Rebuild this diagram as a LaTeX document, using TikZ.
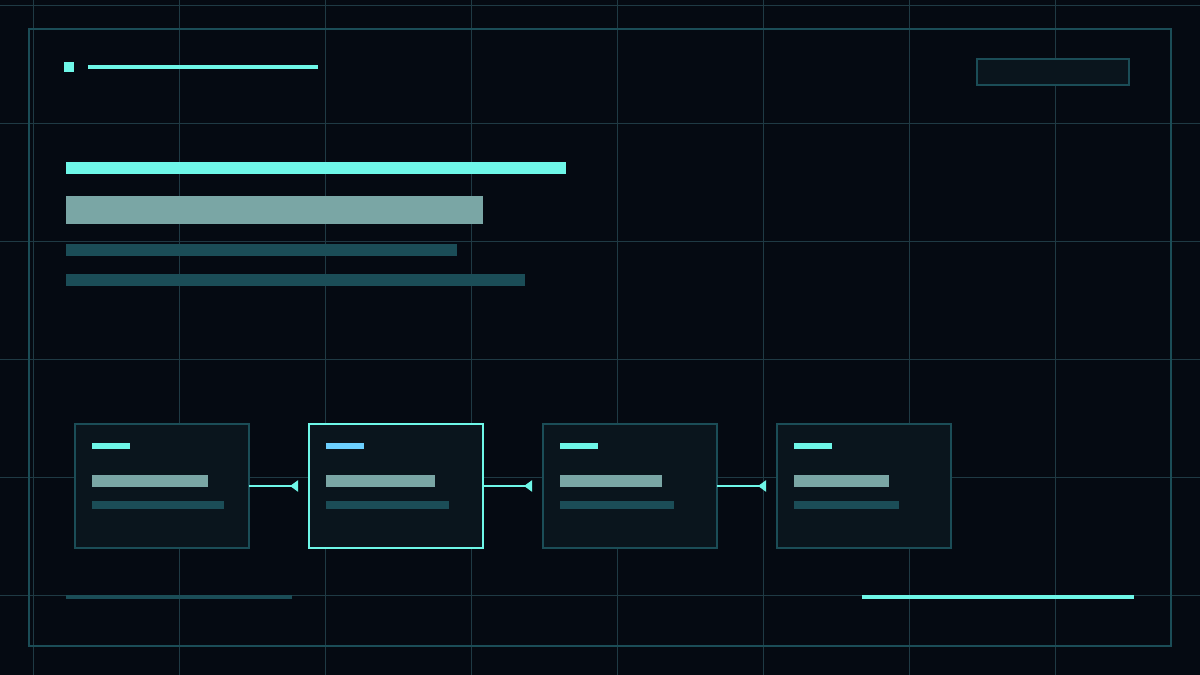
\documentclass[tikz,border=0pt]{standalone}
\usepackage{xcolor}
\usetikzlibrary{arrows.meta}

\definecolor{bgdark}{HTML}{050A12}
\definecolor{gridline}{HTML}{1F3A44}
\definecolor{frameteal}{HTML}{1B4D57}
\definecolor{aqua}{HTML}{6EF7E8}
\definecolor{greyteal}{HTML}{7AA6A5}
\definecolor{boxfill}{HTML}{0A151D}
\definecolor{skyblue}{HTML}{6CD0FF}

\tikzset{
  card/.style={draw=frameteal, fill=boxfill, line width=2pt, inner sep=0pt, outer sep=0pt,
               minimum width=174pt, minimum height=124pt},
  flow/.style={draw=aqua, line width=2.7pt, shorten >=11pt,
               -{Triangle[reversed, length=8pt, width=11pt]}}
}

\begin{document}
\begin{tikzpicture}[x=1pt, y=1pt]
  \useasboundingbox (0,0) rectangle (1200,675);
  \fill[bgdark] (0,0) rectangle (1200,675);
  \draw[gridline, line width=1pt, xstep=146pt, ystep=118pt, shift={(33.3,79.7)}]
    (-33.3,-79.7) grid (1166.7,595.3);
  \draw[frameteal, line width=2pt] (29,29) rectangle (1171,646);

  % header
  \fill[aqua] (64,603) rectangle (74,613);
  \fill[aqua] (88,606) rectangle (318,610);
  \filldraw[fill=boxfill, draw=frameteal, line width=2pt] (977,590) rectangle (1129,616);

  % title block
  \fill[aqua] (66,501) rectangle (566,513);
  \fill[greyteal] (66,451) rectangle (483,479);
  \fill[frameteal] (66,419) rectangle (457,431);
  \fill[frameteal] (66,389) rectangle (525,401);

  % cards
  \node[card] (c1) at (162,189) {};
  \node[card, draw=aqua] (c2) at (396,189) {};
  \node[card] (c3) at (630,189) {};
  \node[card] (c4) at (864,189) {};

  \fill[aqua] ([shift={(17,-19)}]c1.north west) rectangle ++(38,-6);
  \fill[greyteal] ([shift={(17,-51)}]c1.north west) rectangle ++(116,-12);
  \fill[frameteal] ([shift={(17,-77)}]c1.north west) rectangle ++(132,-8);

  \fill[skyblue] ([shift={(17,-19)}]c2.north west) rectangle ++(38,-6);
  \fill[greyteal] ([shift={(17,-51)}]c2.north west) rectangle ++(109,-12);
  \fill[frameteal] ([shift={(17,-77)}]c2.north west) rectangle ++(123,-8);

  \fill[aqua] ([shift={(17,-19)}]c3.north west) rectangle ++(38,-6);
  \fill[greyteal] ([shift={(17,-51)}]c3.north west) rectangle ++(102,-12);
  \fill[frameteal] ([shift={(17,-77)}]c3.north west) rectangle ++(114,-8);

  \fill[aqua] ([shift={(17,-19)}]c4.north west) rectangle ++(38,-6);
  \fill[greyteal] ([shift={(17,-51)}]c4.north west) rectangle ++(95,-12);
  \fill[frameteal] ([shift={(17,-77)}]c4.north west) rectangle ++(105,-8);

  \draw[flow] (c1.east) -- (c2.west);
  \draw[flow] (c2.east) -- (c3.west);
  \draw[flow] (c3.east) -- (c4.west);

  % footer
  \fill[frameteal] (66,76) rectangle (292,80);
  \fill[aqua] (862,76) rectangle (1134,80);
\end{tikzpicture}
\end{document}
